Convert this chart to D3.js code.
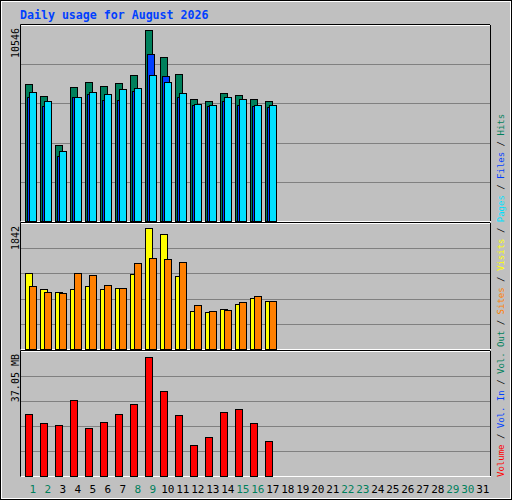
<!DOCTYPE html>
<html>
<head>
<meta charset="utf-8">
<script src="https://cdn.jsdelivr.net/npm/d3@7"></script>
<style>
  body { margin: 0; background: #fff; }
  text { font-family: "DejaVu Sans Mono", monospace; }
</style>
</head>
<body>
<div id="chart"></div>
<script>
// Daily usage chart, Webalizer style

let days = d3.range(1, 32);
let weekendDays = [1, 2, 8, 9, 15, 16, 22, 23, 29, 30];

let hits   = [7547, 6885, 4179, 7382, 7674, 7437, 7619, 8061, 10546, 9038, 8116, 6719, 6609, 7050, 6940, 6719, 6609];
let files  = [6830, 6333, 3589, 6830, 7012, 6680, 6680, 7177, 9220, 8005, 6830, 6388, 6333, 6609, 6388, 6333, 6277];
let pages  = [7122, 6609, 3848, 6830, 7122, 7012, 7288, 7343, 8061, 7674, 7050, 6443, 6388, 6830, 6719, 6388, 6388];
let visits = [1151, 921, 875, 921, 952, 921, 936, 1136, 1842, 1750, 1105, 583, 568, 614, 691, 783, 737];
let sites  = [952, 875, 860, 1151, 1121, 982, 936, 1305, 1382, 1366, 1320, 675, 583, 599, 721, 814, 737];
let volume = [19.36, 16.56, 15.94, 23.7, 15.0, 16.87, 19.36, 22.46, 37.05, 26.5, 19.05, 9.73, 12.2, 19.98, 20.9, 16.56, 10.97];

let yLabels = ['10546', '1842', '37.05 MB'];

let svg = d3.select('#chart').append('svg')
  .attr('width', 512)
  .attr('height', 500);

// background and outer border
svg.append('rect').attr('width', 512).attr('height', 500).attr('fill', '#c0c0c0');
svg.append('rect').attr('x', 0.5).attr('y', 0.5).attr('width', 511).attr('height', 499)
  .attr('fill', 'none').attr('stroke', '#000');
svg.append('rect').attr('x', 1.5).attr('y', 1.5).attr('width', 509).attr('height', 497)
  .attr('fill', 'none').attr('stroke', '#fff');

svg.append('text')
  .attr('x', 20).attr('y', 19)
  .attr('font-size', '11.6px').attr('font-weight', 'bold')
  .attr('fill', '#0040ff')
  .text('Daily usage for August 2026');

let left = 21, right = 490;

let x = d3.scaleBand().domain(days).range([25.3, 25.3 + 31 * 15]);

let panels = [
  { top: 25, bottom: 221, max: 10546 },
  { top: 223, bottom: 349, max: 1842 * 125 / 120 },
  { top: 351, bottom: 476, max: 37.05 * 125 / 119.3 }
];
panels[0].max = 10546 * 196 / 191;

panels.forEach((p, i) => {
  p.y = d3.scaleLinear().domain([0, p.max]).range([p.bottom, p.top]);
  let g = svg.append('g');
  // grid
  let n = i === 0 ? 5 : 5;
  d3.range(1, n).forEach(k => {
    let yy = Math.round(p.bottom - (p.bottom - p.top) * k / n) + 0.5;
    g.append('line').attr('x1', left).attr('x2', right).attr('y1', yy).attr('y2', yy)
      .attr('stroke', '#808080');
  });
  // frame
  g.append('line').attr('x1', left - 0.5).attr('x2', right).attr('y1', p.top - 0.5).attr('y2', p.top - 0.5).attr('stroke', '#000');
  g.append('line').attr('x1', left - 0.5).attr('x2', left - 0.5).attr('y1', p.top - 0.5).attr('y2', p.bottom + 0.5).attr('stroke', '#000');
  g.append('line').attr('x1', left).attr('x2', right).attr('y1', p.top + 0.5).attr('y2', p.top + 0.5).attr('stroke', '#fff');
  g.append('line').attr('x1', left).attr('x2', right + 1).attr('y1', p.bottom + 0.5).attr('y2', p.bottom + 0.5).attr('stroke', '#fff');
  g.append('line').attr('x1', right + 0.5).attr('x2', right + 0.5).attr('y1', p.top).attr('y2', p.bottom).attr('stroke', '#000');
  // y label
  svg.append('text')
    .attr('transform', `translate(19, ${p.top + 3}) rotate(-90)`)
    .attr('text-anchor', 'end')
    .attr('font-size', '10px')
    .attr('fill', '#000')
    .text(yLabels[i]);
});

function bars(data, panel, offset, width, color) {
  svg.append('g').selectAll('rect')
    .data(data)
    .enter()
    .append('rect')
    .attr('x', (d, i) => Math.round(x(days[i]) + offset) + 0.5)
    .attr('y', d => Math.round(panel.y(d)) + 0.5)
    .attr('width', width)
    .attr('height', d => Math.round(panel.bottom - panel.y(d)))
    .attr('fill', color)
    .attr('stroke', '#000');
}

bars(hits, panels[0], 0, 7, '#00805c');
bars(files, panels[0], 2, 7, '#0040ff');
bars(pages, panels[0], 4, 7, '#00e0ff');
bars(visits, panels[1], 0, 7, '#ffff00');
bars(sites, panels[1], 3.5, 7, '#ff8000');
bars(volume, panels[2], 0, 7, '#ff0000');

// day labels
svg.append('g').selectAll('text')
  .data(days)
  .enter()
  .append('text')
  .attr('x', d => x(d) + 7.5)
  .attr('y', 493)
  .attr('text-anchor', 'middle')
  .attr('font-size', '11px')
  .attr('fill', d => weekendDays.includes(d) ? '#00805c' : '#000')
  .text(d => d);

// legend on the right
let legend = [
  ['Volume', '#ff0000'], ['Vol. In', '#0040ff'], ['Vol. Out', '#00805c'],
  ['Sites', '#ff8000'], ['Visits', '#ffff00'], ['Pages', '#00e0ff'],
  ['Files', '#0040ff'], ['Hits', '#00805c']
];
let lt = svg.append('text')
  .attr('transform', 'translate(504, 477) rotate(-90)')
  .attr('font-size', '9px');
legend.forEach((l, i) => {
  if (i > 0) lt.append('tspan').attr('fill', '#000').text(' / ');
  lt.append('tspan').attr('fill', l[1]).text(l[0]);
});
</script>
</body>
</html>
